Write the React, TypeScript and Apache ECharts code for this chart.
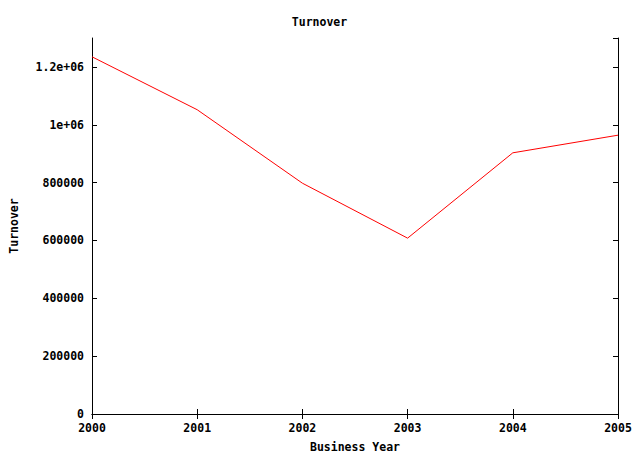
import React, { useEffect, useRef } from "react";
import * as echarts from "echarts";

const years = ["2000", "2001", "2002", "2003", "2004", "2005"];
const turnover = [1235000, 1052000, 798000, 608000, 903000, 964000];
const yMax = 1300000;
const yInterval = 200000;

const FONT = "'DejaVu Sans Mono', monospace";

function fmt(v: number): string {
  if (v >= 1000000) {
    const m = v / 1000000;
    return (Math.round(m * 10) / 10).toString() + "e+06";
  }
  return String(v);
}

export default function App() {
  const ref = useRef<HTMLDivElement>(null);
  useEffect(() => {
    if (!ref.current) return;
    const chart = echarts.init(ref.current, undefined, { renderer: "svg" });
    const axisLine = { show: true, lineStyle: { color: "#000", width: 1 } };
    const labelStyle = { color: "#000", fontFamily: FONT, fontSize: 11.5, fontWeight: "bold" as const };
    chart.setOption({
      animation: false,
      backgroundColor: "#fff",
      title: {
        text: "Turnover",
        left: "center",
        top: 11,
        textStyle: { ...labelStyle },
      },
      grid: { left: 88, right: 21, top: 38, bottom: 48, containLabel: false },
      xAxis: [
        {
          type: "category",
          data: years,
          boundaryGap: false,
          position: "bottom",
          axisLine,
          axisTick: { show: true, inside: true, length: 5, lineStyle: { color: "#000" } },
          axisLabel: { ...labelStyle, margin: 8 },
          splitLine: { show: false },
          name: "Business Year",
          nameLocation: "middle",
          nameGap: 27,
          nameTextStyle: labelStyle,
        },
        {
          type: "category",
          data: years,
          boundaryGap: false,
          position: "top",
          axisLine,
          axisTick: { show: true, inside: true, length: 5, lineStyle: { color: "#000" } },
          axisLabel: { show: false },
          splitLine: { show: false },
        },
      ],
      yAxis: [
        {
          type: "value",
          min: 0,
          max: yMax,
          interval: yInterval,
          position: "left",
          axisLine,
          axisTick: { show: true, inside: true, length: 5, lineStyle: { color: "#000" } },
          axisLabel: { ...labelStyle, margin: 8, formatter: (v: number) => fmt(v), showMaxLabel: false },
          splitLine: { show: false },
          name: "Turnover",
          nameLocation: "middle",
          nameGap: 72,
          nameRotate: 90,
          nameTextStyle: labelStyle,
        },
        {
          type: "value",
          min: 0,
          max: yMax,
          interval: yInterval,
          position: "right",
          axisLine,
          axisTick: { show: true, inside: true, length: 5, lineStyle: { color: "#000" } },
          axisLabel: { show: false },
          splitLine: { show: false },
        },
      ],
      series: [
        {
          type: "line",
          data: turnover,
          xAxisIndex: 0,
          yAxisIndex: 0,
          showSymbol: false,
          lineStyle: { color: "#ff0000", width: 1 },
          itemStyle: { color: "#ff0000" },
        },
      ],
    });
    return () => chart.dispose();
  }, []);
  return <div ref={ref} style={{ width: 639, height: 462, position: "absolute", left: 0, top: 0 }} />;
}
